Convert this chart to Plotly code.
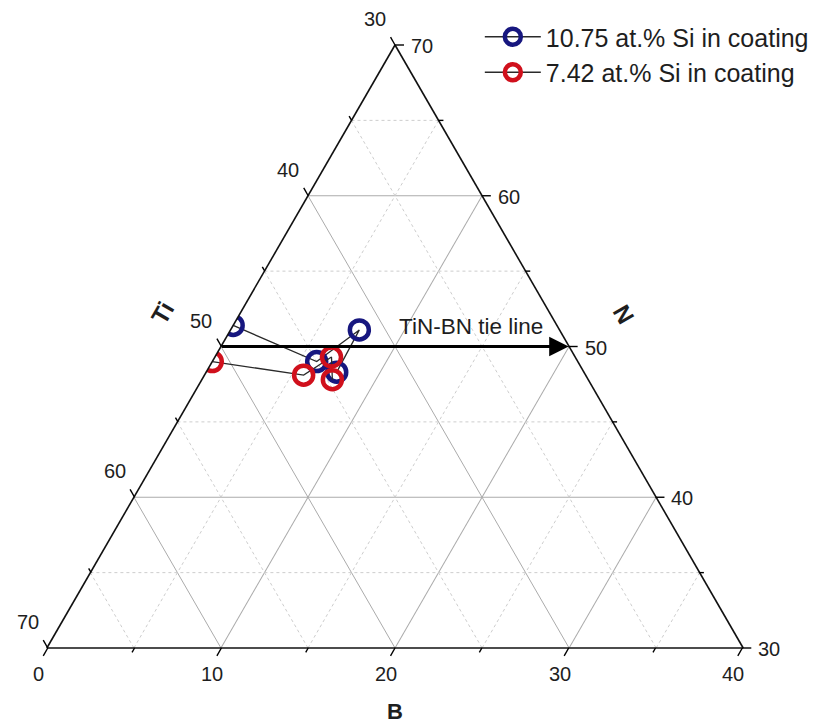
import numpy as np
import plotly.graph_objects as go

# ---------------------------------------------------------------- data (at.%)
SERIES_NAMES = ["10.75 at.% Si in coating", "7.42 at.% Si in coating"]
SERIES_COLORS = ["#17177f", "#d0101c"]

B_SI1075 = [0.0, 6.0, 7.4, 7.5]
N_SI1075 = [51.4, 49.0, 51.1, 48.3]

B_SI742 = [0.0, 5.7, 6.7, 7.5]
N_SI742 = [49.0, 48.1, 49.3, 47.8]

# TiN -> BN tie line, cut at the Ti = 30 boundary of the shown region
TIE_B = [0.0, 20.0]
TIE_N = [50.0, 50.0]

# axis windows and ticks
N_MIN, TI_MIN, B_MIN = 30, 30, 0
TI_MAJOR = [30, 40, 50, 60, 70]
TI_MINOR = [35, 45, 55, 65]
B_MAJOR = [0, 10, 20, 30, 40]
B_MINOR = [5, 15, 25, 35]
N_MAJOR = [30, 40, 50, 60, 70]
N_MINOR = [35, 45, 55, 65]

SPAN = 100 - N_MIN - TI_MIN - B_MIN

# ---------------------------------------------------------------- geometry
W, H = 814, 726
# pixel box (left, top, right, bottom) that holds the ternary frame
BOX = (47, 45, 745, 648)
SQ3 = np.sqrt(3.0)
BW, BH = BOX[2] - BOX[0], BOX[3] - BOX[1]
TRI_H = min(BH, BW * SQ3 / 2)
TRI_W = TRI_H * 2 / SQ3
X0 = BOX[0] + BW / 2 - TRI_W / 2
YB = BOX[1] + BH / 2 + TRI_H / 2


def to_px(b, n):
    """Composition (B, N) -> pixel position inside the ternary frame."""
    u = (b - B_MIN + (n - N_MIN) / 2) / SPAN
    v = (n - N_MIN) / SPAN
    return X0 + u * TRI_W, YB - v * TRI_H


def to_paper(px, py):
    return px / W, (H - py) / H


def ti_of(b, n):
    return [100 - bi - ni for bi, ni in zip(b, n)]


FONT = "Liberation Sans, Arial, sans-serif"
TXT = "#1e1e1e"

fig = go.Figure()

# ---------------------------------------------------------------- dashed minor grid
MINOR_STYLE = dict(color="#cdcdcd", width=1, dash="3px,3px")
for n in N_MINOR:  # horizontal: N constant
    bs = [B_MIN, 100 - TI_MIN - n]
    fig.add_trace(go.Scatterternary(a=[n, n], b=ti_of(bs, [n, n]), c=bs, mode="lines",
                                    line=MINOR_STYLE, hoverinfo="skip", showlegend=False))
for t in TI_MINOR:  # Ti constant
    bs = [B_MIN, 100 - N_MIN - t]
    ns = [100 - t - B_MIN, N_MIN]
    fig.add_trace(go.Scatterternary(a=ns, b=[t, t], c=bs, mode="lines",
                                    line=MINOR_STYLE, hoverinfo="skip", showlegend=False))
for bv in B_MINOR:  # B constant
    ns = [N_MIN, 100 - TI_MIN - bv]
    fig.add_trace(go.Scatterternary(a=ns, b=ti_of([bv, bv], ns), c=[bv, bv], mode="lines",
                                    line=MINOR_STYLE, hoverinfo="skip", showlegend=False))

# ---------------------------------------------------------------- measured compositions
for name, color, bs, ns in [
    (SERIES_NAMES[0], SERIES_COLORS[0], B_SI1075, N_SI1075),
    (SERIES_NAMES[1], SERIES_COLORS[1], B_SI742, N_SI742),
]:
    fig.add_trace(go.Scatterternary(
        a=ns, b=ti_of(bs, ns), c=bs, name=name, mode="lines+markers",
        line=dict(color="#2a2a2a", width=1.3),
        marker=dict(symbol="circle-open", size=19, color=color, line=dict(width=4.5, color=color)),
    ))

# ---------------------------------------------------------------- ticks and tick labels
shapes = []
annotations = []
TICK_MAJ, TICK_MIN = 9, 5


def add_ticks(points, labels, direction, label_off, length):
    dx, dy = direction
    for (px, py), lab in zip(points, labels):
        x0p, y0p = to_paper(px, py)
        x1p, y1p = to_paper(px + dx * length, py + dy * length)
        shapes.append(dict(type="line", xref="paper", yref="paper", x0=x0p, y0=y0p,
                           x1=x1p, y1=y1p, line=dict(color="black", width=1.4)))
        if lab is not None:
            lx, ly = to_paper(px + label_off[0], py + label_off[1])
            annotations.append(dict(x=lx, y=ly, xref="paper", yref="paper", text=str(lab),
                                    showarrow=False, xanchor="center", yanchor="middle",
                                    font=dict(size=20, color=TXT, family=FONT)))


LEFT_DIR = (-0.5, -SQ3 / 2)
BOTTOM_DIR = (-0.5, SQ3 / 2)
RIGHT_DIR = (1.0, 0.0)

# Ti on the left edge (B = 0)
add_ticks([to_px(B_MIN, 100 - t - B_MIN) for t in TI_MAJOR], TI_MAJOR, LEFT_DIR, (-20, -26), TICK_MAJ)
add_ticks([to_px(B_MIN, 100 - t - B_MIN) for t in TI_MINOR], [None] * 4, LEFT_DIR, (0, 0), TICK_MIN)
# B on the bottom edge (N = 30)
add_ticks([to_px(bv, N_MIN) for bv in B_MAJOR], B_MAJOR, BOTTOM_DIR, (-9, 26), TICK_MAJ)
add_ticks([to_px(bv, N_MIN) for bv in B_MINOR], [None] * 4, BOTTOM_DIR, (0, 0), TICK_MIN)
# N on the right edge (Ti = 30)
add_ticks([to_px(100 - TI_MIN - n, n) for n in N_MAJOR], N_MAJOR, RIGHT_DIR, (27, 1), TICK_MAJ)
add_ticks([to_px(100 - TI_MIN - n, n) for n in N_MINOR], [None] * 4, RIGHT_DIR, (0, 0), TICK_MIN)


# ---------------------------------------------------------------- axis titles
def edge_title(text, p0, p1, normal, dist, angle, size):
    mx, my = (p0[0] + p1[0]) / 2, (p0[1] + p1[1]) / 2
    x, y = to_paper(mx + normal[0] * dist, my + normal[1] * dist)
    annotations.append(dict(x=x, y=y, xref="paper", yref="paper", text=f"<b>{text}</b>",
                            showarrow=False, textangle=angle, xanchor="center", yanchor="middle",
                            font=dict(size=size, color=TXT, family=FONT)))


top = to_px(B_MIN, 100 - TI_MIN - B_MIN)
bl = to_px(B_MIN, N_MIN)
br = to_px(100 - TI_MIN - N_MIN, N_MIN)
edge_title("Ti", bl, top, (-SQ3 / 2, -0.5), 68, -60, 24)
edge_title("N", br, top, (SQ3 / 2, -0.5), 64, 60, 24)
edge_title("B", bl, br, (0.0, 1.0), 63, 0, 22)

# ---------------------------------------------------------------- tie line
t0 = to_px(TIE_B[0], TIE_N[0])
t1 = to_px(TIE_B[1], TIE_N[1])
ex, ey = to_paper(*t1)
annotations.append(dict(x=ex, y=ey, xref="paper", yref="paper", text="",
                        ax=t0[0] - t1[0], ay=t0[1] - t1[1], axref="pixel", ayref="pixel",
                        showarrow=True, arrowhead=2, arrowsize=1.3, arrowwidth=3,
                        arrowcolor="black", standoff=0))
lx, ly = to_paper(*to_px(14.4, TIE_N[0]))
annotations.append(dict(x=lx, y=ly, xref="paper", yref="paper", text="TiN-BN tie line",
                        showarrow=False, xanchor="center", yanchor="middle", yshift=20,
                        font=dict(size=22.5, color=TXT, family=FONT)))

# ---------------------------------------------------------------- layout
AX_COMMON = dict(showticklabels=False, ticks="", showgrid=True, gridcolor="#ababab",
                 gridwidth=1, linecolor="#111111", linewidth=1.6, title=dict(text=""),
                 tickmode="array")

fig.update_layout(
    width=W, height=H,
    margin=dict(l=0, r=0, t=0, b=0, pad=0),
    paper_bgcolor="white",
    font=dict(family=FONT, color=TXT),
    ternary=dict(
        sum=100,
        domain=dict(x=[BOX[0] / W, BOX[2] / W], y=[(H - BOX[3]) / H, (H - BOX[1]) / H]),
        bgcolor="white",
        aaxis=dict(min=N_MIN, tickvals=N_MAJOR[1:-1], **AX_COMMON),
        baxis=dict(min=TI_MIN, tickvals=TI_MAJOR[1:-1], **AX_COMMON),
        caxis=dict(min=B_MIN, tickvals=B_MAJOR[1:-1], **AX_COMMON),
    ),
    shapes=shapes,
    annotations=annotations,
    showlegend=True,
    legend=dict(x=481 / W, y=(H - 14) / H, xanchor="left", yanchor="top",
                font=dict(size=25, color=TXT, family=FONT), itemwidth=56,
                bgcolor="rgba(0,0,0,0)", tracegroupgap=0),
)

fig.write_html("out.html")
